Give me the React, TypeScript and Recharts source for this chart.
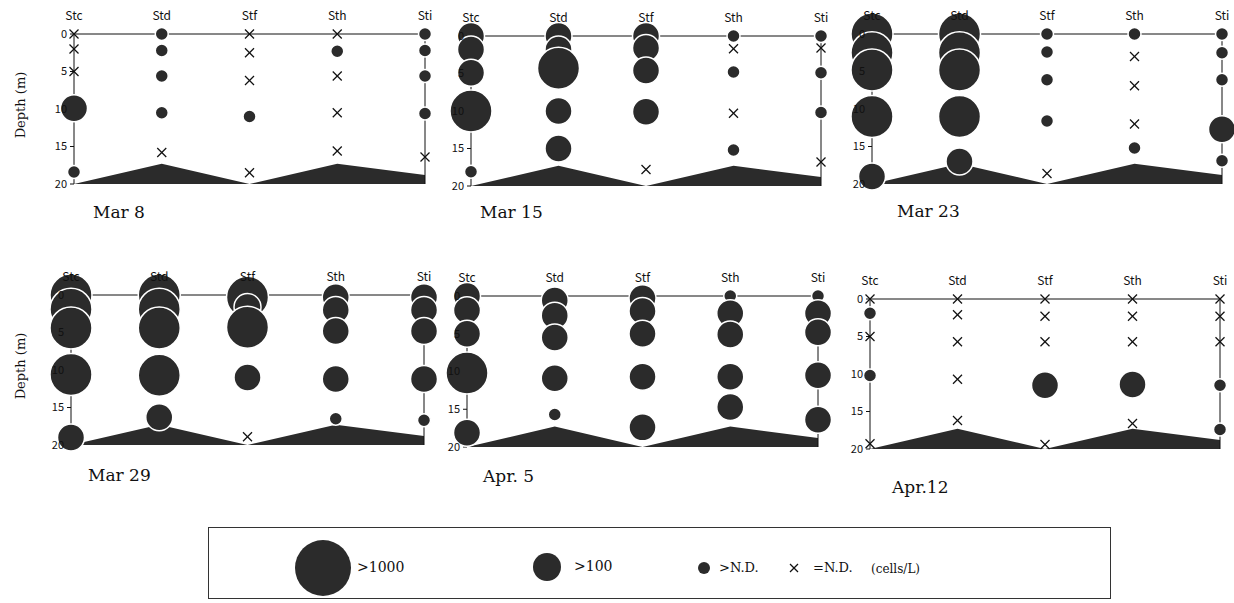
import { ComposedChart, Area, Scatter, XAxis, YAxis, ReferenceLine } from "recharts";

const STATIONS = ["Stc", "Std", "Stf", "Sth", "Sti"];
const DEPTH_TICKS = [0, 5, 10, 15, 20];
// bottom depth (m) under each station
const SEAFLOOR = [20, 17.3, 20, 17.3, 18.8];

// [station, depth (m), class]  class: 0 = N.D., 1 = >N.D., 2 = >100, 3 = >1000 cells/L
type Obs = [string, number, number];

const MAR8: Obs[] = [
  ["Stc", 0, 0], ["Stc", 2, 0], ["Stc", 5, 0], ["Stc", 9.9, 2], ["Stc", 18.4, 1],
  ["Std", 0, 1], ["Std", 2.2, 1], ["Std", 5.6, 1], ["Std", 10.5, 1], ["Std", 15.8, 0],
  ["Stf", 0, 0], ["Stf", 2.5, 0], ["Stf", 6.2, 0], ["Stf", 11, 1], ["Stf", 18.5, 0],
  ["Sth", 0, 0], ["Sth", 2.3, 1], ["Sth", 5.6, 0], ["Sth", 10.5, 0], ["Sth", 15.6, 0],
  ["Sti", 0, 1], ["Sti", 2.2, 1], ["Sti", 5.6, 1], ["Sti", 10.6, 1], ["Sti", 16.4, 0],
];

const MAR15: Obs[] = [
  ["Stc", 0, 2], ["Stc", 1.8, 2], ["Stc", 4.9, 2], ["Stc", 10, 3], ["Stc", 18.1, 1],
  ["Std", 0, 2], ["Std", 1.8, 2], ["Std", 4.3, 3], ["Std", 10, 2], ["Std", 15, 2],
  ["Stf", 0, 2], ["Stf", 1.6, 2], ["Stf", 4.6, 2], ["Stf", 10.1, 2], ["Stf", 17.8, 0],
  ["Sth", 0, 1], ["Sth", 1.7, 0], ["Sth", 4.8, 1], ["Sth", 10.3, 0], ["Sth", 15.2, 1],
  ["Sti", 0, 1], ["Sti", 1.6, 0], ["Sti", 4.9, 1], ["Sti", 10.2, 1], ["Sti", 16.8, 0],
];

const MAR23: Obs[] = [
  ["Stc", 0, 3], ["Stc", 2.5, 3], ["Stc", 4.8, 3], ["Stc", 11, 3], ["Stc", 19, 2],
  ["Std", 0, 3], ["Std", 2.5, 3], ["Std", 4.8, 3], ["Std", 11, 3], ["Std", 17, 2],
  ["Stf", 0, 1], ["Stf", 2.4, 1], ["Stf", 6.1, 1], ["Stf", 11.6, 1], ["Stf", 18.6, 0],
  ["Sth", 0, 1], ["Sth", 3, 0], ["Sth", 6.9, 0], ["Sth", 12, 0], ["Sth", 15.2, 1],
  ["Sti", 0, 1], ["Sti", 2.5, 1], ["Sti", 6.1, 1], ["Sti", 12.7, 2], ["Sti", 16.9, 1],
];

const MAR29: Obs[] = [
  ["Stc", 0, 3], ["Stc", 1.9, 3], ["Stc", 4.4, 3], ["Stc", 10.6, 3], ["Stc", 19, 2],
  ["Std", 0, 3], ["Std", 1.9, 3], ["Std", 4.4, 3], ["Std", 10.7, 3], ["Std", 16.3, 2],
  ["Stf", 0.3, 3], ["Stf", 1.6, 2], ["Stf", 4.3, 3], ["Stf", 11, 2], ["Stf", 18.9, 0],
  ["Sth", 0.3, 2], ["Sth", 2, 2], ["Sth", 4.8, 2], ["Sth", 11.2, 2], ["Sth", 16.5, 1],
  ["Sti", 0.3, 2], ["Sti", 2, 2], ["Sti", 4.8, 2], ["Sti", 11.2, 2], ["Sti", 16.7, 1],
];

const APR5: Obs[] = [
  ["Stc", 0, 2], ["Stc", 1.9, 2], ["Stc", 5, 2], ["Stc", 10.2, 3], ["Stc", 18.1, 2],
  ["Std", 0.6, 2], ["Std", 2.6, 2], ["Std", 5.5, 2], ["Std", 10.9, 2], ["Std", 15.7, 1],
  ["Stf", 0.3, 2], ["Stf", 2, 2], ["Stf", 5, 2], ["Stf", 10.7, 2], ["Stf", 17.4, 2],
  ["Sth", 0, 1], ["Sth", 2.3, 2], ["Sth", 5.1, 2], ["Sth", 10.7, 2], ["Sth", 14.7, 2],
  ["Sti", 0, 1], ["Sti", 2.3, 2], ["Sti", 4.8, 2], ["Sti", 10.5, 2], ["Sti", 16.4, 2],
];

const APR12: Obs[] = [
  ["Stc", 0, 0], ["Stc", 1.9, 1], ["Stc", 5, 0], ["Stc", 10.2, 1], ["Stc", 19.3, 0],
  ["Std", 0, 0], ["Std", 2.1, 0], ["Std", 5.7, 0], ["Std", 10.7, 0], ["Std", 16.2, 0],
  ["Stf", 0, 0], ["Stf", 2.3, 0], ["Stf", 5.7, 0], ["Stf", 11.5, 2], ["Stf", 19.4, 0],
  ["Sth", 0, 0], ["Sth", 2.3, 0], ["Sth", 5.7, 0], ["Sth", 11.4, 2], ["Sth", 16.6, 0],
  ["Sti", 0, 0], ["Sti", 2.3, 0], ["Sti", 5.7, 0], ["Sti", 11.5, 1], ["Sti", 17.4, 1],
];

const LEGEND_LABELS = [">1000", ">100", ">N.D.", "=N.D.", "(cells/L)"];

// page layout of each panel: x of Stc / Sti, y of 0 m / 20 m, title position
const PANELS = [
  { title: "Mar 8", obs: MAR8, stcX: 74, stiX: 425, y0: 34, y20: 184, tx: 93, ty: 212, depth: true },
  { title: "Mar 15", obs: MAR15, stcX: 471, stiX: 821, y0: 36, y20: 186, tx: 480, ty: 212, depth: false },
  { title: "Mar 23", obs: MAR23, stcX: 872, stiX: 1222, y0: 34, y20: 184, tx: 897, ty: 211, depth: false },
  { title: "Mar 29", obs: MAR29, stcX: 71, stiX: 424, y0: 295, y20: 445, tx: 88, ty: 475, depth: true },
  { title: "Apr. 5", obs: APR5, stcX: 467, stiX: 818, y0: 296, y20: 447, tx: 483, ty: 476, depth: false },
  { title: "Apr.12", obs: APR12, stcX: 870, stiX: 1220, y0: 299, y20: 449, tx: 892, ty: 487, depth: false },
];

const RADIUS = [0, 6.5, 13.5, 21];
const FILL = "#2b2b2b";
const GOTHIC = "'Noto Sans CJK JP', 'DejaVu Sans', sans-serif";
const SERIF = "'DejaVu Serif', 'Liberation Serif', serif";

const YW = 30; // y-axis width
const XH = 24; // x-axis height
const MT = 10;
const MR = 26;
const MB = 22;

const Bubble = (props: any) => (
  <circle cx={props.cx} cy={props.cy} r={RADIUS[props.payload.level]} fill={FILL} stroke="#fff" strokeWidth={1.5} />
);

const Cross = (props: any) => {
  const { cx, cy } = props;
  const s = 4.5;
  return (
    <g stroke="#111" strokeWidth={1.2}>
      <line x1={cx - s} y1={cy - s} x2={cx + s} y2={cy + s} />
      <line x1={cx - s} y1={cy + s} x2={cx + s} y2={cy - s} />
    </g>
  );
};

function Panel({ p }: { p: (typeof PANELS)[number] }) {
  const plotW = p.stiX - p.stcX;
  const plotH = p.y20 - p.y0;
  const width = YW + plotW + MR;
  const height = MT + XH + plotH + MB;

  const points = p.obs.map(([st, depth, level]) => ({ x: STATIONS.indexOf(st), depth, level }));
  const nd = points.filter((d) => d.level === 0);
  const found = points.filter((d) => d.level > 0).sort((a, b) => a.depth - b.depth);
  const floor = SEAFLOOR.map((d, i) => ({ x: i, floor: d }));

  return (
    <div style={{ position: "absolute", left: p.stcX - YW, top: p.y0 - MT - XH }}>
      <ComposedChart width={width} height={height} margin={{ top: MT, right: MR, bottom: MB, left: 0 }}>
        <XAxis
          type="number"
          dataKey="x"
          orientation="top"
          domain={[0, 4]}
          ticks={[0, 1, 2, 3, 4]}
          tickFormatter={(v) => STATIONS[v]}
          height={XH}
          axisLine={{ stroke: "#111" }}
          tickLine={false}
          tickMargin={8}
          tick={{ fill: "#111", fontSize: 12, fontFamily: GOTHIC }}
        />
        <YAxis
          type="number"
          dataKey="depth"
          reversed
          domain={[0, 20]}
          ticks={DEPTH_TICKS}
          width={YW}
          axisLine={{ stroke: "#111" }}
          tickLine={{ stroke: "#111" }}
          tickSize={4}
          tickMargin={3}
          tick={{ fill: "#111", fontSize: 11, fontFamily: GOTHIC }}
        />
        <Area
          data={floor}
          dataKey="floor"
          type="linear"
          baseValue={20}
          stroke="none"
          fill={FILL}
          fillOpacity={1}
          isAnimationActive={false}
        />
        <ReferenceLine x={4} stroke="#111" />
        <Scatter data={nd} shape={Cross} isAnimationActive={false} />
        <Scatter data={found} shape={Bubble} isAnimationActive={false} />
      </ComposedChart>
    </div>
  );
}

export default function App() {
  return (
    <div style={{ position: "absolute", left: 0, top: 0, width: 1234, height: 603, background: "#fff", overflow: "hidden" }}>
      {PANELS.map((p) => (
        <Panel key={p.title} p={p} />
      ))}
      {PANELS.map((p) => (
        <div
          key={p.title + "-t"}
          style={{ position: "absolute", left: p.tx, top: p.ty, transform: "translateY(-50%)", fontFamily: SERIF, fontSize: 17, lineHeight: 1, color: "#111", whiteSpace: "nowrap" }}
        >
          {p.title}
        </div>
      ))}
      {PANELS.filter((p) => p.depth).map((p) => (
        <div
          key={p.title + "-d"}
          style={{
            position: "absolute",
            left: 20,
            top: (p.y0 + p.y20) / 2 - 4,
            transform: "translate(-50%, -50%) rotate(-90deg)",
            fontFamily: SERIF,
            fontSize: 13,
            lineHeight: 1,
            color: "#111",
            whiteSpace: "nowrap",
          }}
        >
          Depth (m)
        </div>
      ))}
      <div style={{ position: "absolute", left: 208, top: 527, width: 901, height: 70, border: "1px solid #333" }}>
        <svg width={901} height={70} style={{ display: "block" }}>
          <circle cx={114} cy={40} r={28} fill={FILL} />
          <text x={148} y={44} fontFamily={SERIF} fontSize={14} fill="#111">{LEGEND_LABELS[0]}</text>
          <circle cx={338} cy={39} r={14} fill={FILL} />
          <text x={365} y={43} fontFamily={SERIF} fontSize={14} fill="#111">{LEGEND_LABELS[1]}</text>
          <circle cx={495} cy={40} r={6} fill={FILL} />
          <text x={510} y={44} fontFamily={SERIF} fontSize={13} fill="#111">{LEGEND_LABELS[2]}</text>
          <g stroke="#111" strokeWidth={1.2}>
            <line x1={581} y1={36} x2={589} y2={44} />
            <line x1={581} y1={44} x2={589} y2={36} />
          </g>
          <text x={604} y={44} fontFamily={SERIF} fontSize={13} fill="#111">{LEGEND_LABELS[3]}</text>
          <text x={662} y={45} fontFamily={SERIF} fontSize={12} fill="#111">{LEGEND_LABELS[4]}</text>
        </svg>
      </div>
    </div>
  );
}
